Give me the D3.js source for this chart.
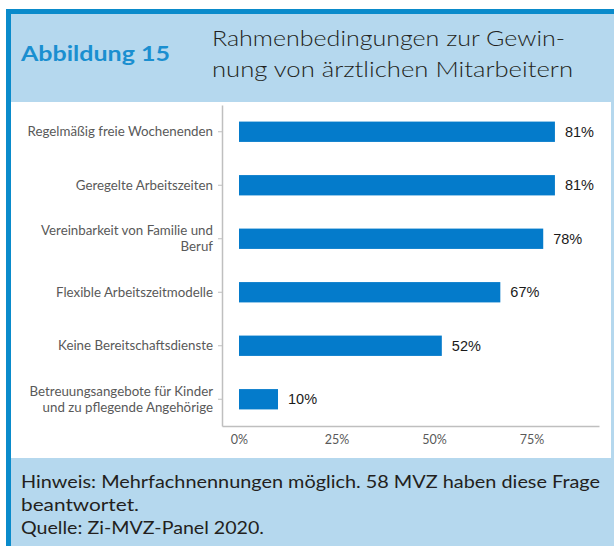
<!DOCTYPE html>
<html>
<head>
<meta charset="utf-8">
<script src="https://cdn.jsdelivr.net/npm/d3@7"></script>
<style>
  html, body { margin: 0; padding: 0; background: #fff; }
  svg { display: block; }
</style>
</head>
<body>
<div id="chart"></div>
<script>
// data
const categories = [
  ["Regelmäßig freie Wochenenden"],
  ["Geregelte Arbeitszeiten"],
  ["Vereinbarkeit von Familie und", "Beruf"],
  ["Flexible Arbeitszeitmodelle"],
  ["Keine Bereitschaftsdienste"],
  ["Betreuungsangebote für Kinder", "und zu pflegende Angehörige"]
]
const values = [0.81, 0.81, 0.78, 0.67, 0.52, 0.10]
const tickValues = [0, 0.25, 0.5, 0.75]
const figLabel = "Abbildung 15"
const titleLines = ["Rahmenbedingungen zur Gewin-", "nung von ärztlichen Mitarbeitern"]
const noteLines = [
  "Hinweis: Mehrfachnennungen möglich. 58 MVZ haben diese Frage",
  "beantwortet.",
  "Quelle: Zi-MVZ-Panel 2020."
]

const W = 614, H = 546
const blue = "#0a8bcb", light = "#b5d8ee", barColor = "#047bcb"
const font = "Lato, 'Open Sans', sans-serif"

const svg = d3.select("#chart").append("svg")
  .attr("width", W)
  .attr("height", H)

// frame + header + footer
svg.append("rect").attr("x", 6).attr("y", 9).attr("width", W - 6).attr("height", H - 9).attr("fill", blue)
svg.append("rect").attr("x", 11).attr("y", 14).attr("width", W - 11).attr("height", H - 14).attr("fill", light)
svg.append("rect").attr("x", 11).attr("y", 102).attr("width", 600).attr("height", 356).attr("fill", "#fff")

svg.append("text")
  .attr("x", 21).attr("y", 61)
  .attr("font-family", font).attr("font-weight", "bold").attr("font-size", 20)
  .attr("fill", "#1a8fd0")
  .attr("textLength", 149).attr("lengthAdjust", "spacingAndGlyphs")
  .text(figLabel)

svg.append("g").selectAll("text")
  .data(titleLines)
  .enter().append("text")
  .attr("x", 212)
  .attr("y", (d, i) => 46 + i * 31)
  .attr("font-family", font).attr("font-size", 22).attr("font-weight", 300)
  .attr("fill", "#231f20")
  .attr("textLength", (d, i) => i == 0 ? 353 : 361)
  .attr("lengthAdjust", "spacingAndGlyphs")
  .text(d => d)

svg.append("g").selectAll("text")
  .data(noteLines)
  .enter().append("text")
  .attr("x", 21)
  .attr("y", (d, i) => 488 + i * 23)
  .attr("font-family", font).attr("font-size", 17)
  .attr("fill", "#231f20")
  .attr("textLength", (d, i) => [579, 118, 243][i])
  .attr("lengthAdjust", "spacingAndGlyphs")
  .text(d => d)

// scales
const plot = { left: 222, right: 599, top: 105, bottom: 426 }
const zeroX = 239
const xMax = 0.923
const x = d3.scaleLinear()
  .domain([-(zeroX - plot.left) / ((plot.right - zeroX) / xMax), xMax])
  .range([plot.left, plot.right])

const y = d3.scaleBand()
  .domain(d3.range(categories.length))
  .range([plot.top, plot.bottom])
  .paddingInner(0.62)
  .paddingOuter(0.31)

// bars
svg.append("g").selectAll("rect")
  .data(values)
  .enter().append("rect")
  .attr("x", x(0))
  .attr("y", (d, i) => y(i))
  .attr("width", d => x(d) - x(0))
  .attr("height", y.bandwidth())
  .attr("fill", barColor)

svg.append("g").selectAll("text")
  .data(values)
  .enter().append("text")
  .attr("x", d => x(d) + 10)
  .attr("y", (d, i) => y(i) + y.bandwidth() / 2)
  .attr("dy", "0.36em")
  .attr("font-family", "Arial, 'Liberation Sans', sans-serif")
  .attr("font-size", 14.5)
  .attr("fill", "#1a1a1a")
  .text(d => d3.format(".0%")(d))

// axes
const xAxis = d3.axisBottom(x).tickValues(tickValues).tickSize(0).tickPadding(9)
  .tickFormat(d3.format(".0%"))
const gx = svg.append("g")
  .attr("transform", `translate(0,${plot.bottom})`)
  .call(xAxis)
gx.select(".domain").attr("stroke", "#bfbfbf").attr("stroke-width", 1.5)
gx.selectAll("text").attr("font-family", font).attr("font-size", 12.5).attr("fill", "#595959")

const yAxis = d3.axisLeft(y).tickSize(4).tickSizeOuter(0).tickFormat("")
const gy = svg.append("g")
  .attr("transform", `translate(${plot.left},0)`)
  .call(yAxis)
gy.select(".domain").attr("stroke", "#bfbfbf").attr("stroke-width", 1.5)
gy.selectAll(".tick line").attr("stroke", "#bfbfbf")

// category labels (wrapped)
gy.selectAll(".tick").each(function(d) {
  const lines = categories[d]
  const t = d3.select(this).append("text")
    .attr("x", -9)
    .attr("text-anchor", "end")
    .attr("font-family", font).attr("font-size", 13.3)
    .attr("fill", "#595959")
  lines.forEach((l, j) => {
    t.append("tspan")
      .attr("x", -9)
      .attr("y", (j - (lines.length - 1) / 2) * 16)
      .attr("dy", "0.35em")
      .text(l)
  })
})
</script>
</body>
</html>
